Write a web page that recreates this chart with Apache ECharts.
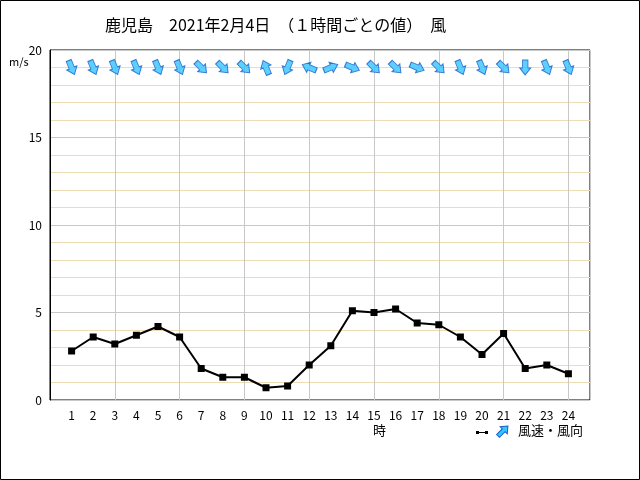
<!DOCTYPE html>
<html>
<head>
<meta charset="utf-8">
<script src="https://cdn.jsdelivr.net/npm/echarts@6/dist/echarts.min.js"></script>
<style>
  html, body { margin: 0; padding: 0; background: #fff; }
  #chart { width: 640px; height: 480px; }
</style>
</head>
<body>
<div id="chart"></div>
<script>
// 1時間ごとの値
const hours = [1, 2, 3, 4, 5, 6, 7, 8, 9, 10, 11, 12, 13, 14, 15, 16, 17, 18, 19, 20, 21, 22, 23, 24]
const windSpeed = [2.8, 3.6, 3.2, 3.7, 4.2, 3.6, 1.8, 1.3, 1.3, 0.7, 0.8, 2.0,
  3.1, 5.1, 5.0, 5.2, 4.4, 4.3, 3.6, 2.6, 3.8, 1.8, 2.0, 1.5]
const windDir = ['北北西', '北北西', '北北西', '北北西', '北北西', '北北西', '北西', '北西', '北西', '南南東', '北北東', '東南東',
  '西南西', '西北西', '北西', '北西', '西北西', '北西', '北北西', '北北西', '北西', '北', '北北西', '北北西']
const yTicks = [0, 5, 10, 15, 20]
const compass = ['北', '北北東', '北東', '東北東', '東', '東南東', '南東', '南南東',
  '南', '南南西', '南西', '西南西', '西', '西北西', '北西', '北北西']

const arrowPath = 'path://M5,0 L10,7 L7.5,7 L7.5,15 L2.5,15 L2.5,7 L0,7 Z'
const font = '"Noto Sans CJK JP", sans-serif'

let myChart = echarts.init(document.getElementById('chart'))

// 風向（吹いてくる方向）→ 矢印は風下向き
const arrowData = hours.map((h, i) => {
  let deg = compass.indexOf(windDir[i]) * 22.5
  return { value: [h, 19], symbolRotate: -(deg + 180) }
})

var option = {
  animation: false,
  textStyle: { fontFamily: font },
  title: {
    text: '鹿児島　2021年2月4日　（１時間ごとの値）　風',
    left: 100,
    top: 12,
    textStyle: { fontSize: 16, fontWeight: 'normal', color: '#000', fontFamily: font },
  },
  grid: {
    left: 50,
    top: 50,
    right: 50,
    bottom: 80,
    show: true,
    borderColor: '#000',
    borderWidth: 1,
  },
  xAxis: [
    {
      type: 'value',
      min: 0,
      max: 25,
      interval: 1,
      axisLine: { show: false },
      axisTick: { show: false },
      splitLine: { show: false },
      axisLabel: {
        color: '#000',
        fontSize: 12,
        margin: 9,
        formatter: (v) => (hours.indexOf(v) >= 0 ? String(v) : ''),
      },
    },
    {
      type: 'value',
      min: 0,
      max: 25,
      interval: 3,
      position: 'bottom',
      axisLine: { show: false },
      axisTick: { show: false },
      axisLabel: { show: false },
      splitLine: { show: true, lineStyle: { color: '#c8c8c8', width: 1 } },
    },
  ],
  yAxis: {
    type: 'value',
    min: 0,
    max: 20,
    interval: 5,
    axisLine: { show: true, lineStyle: { color: '#000' } },
    axisTick: { show: false },
    axisLabel: {
      color: '#000',
      fontSize: 12,
      margin: 8,
      formatter: (v) => (yTicks.indexOf(v) >= 0 ? String(v) : ''),
    },
    splitLine: { show: true, lineStyle: { color: '#c8c8c8', width: 1 } },
    minorTick: { show: false, splitNumber: 5 },
    minorSplitLine: { show: true, lineStyle: { color: '#eddcb4', width: 1 } },
  },
  series: [
    {
      name: '風速',
      type: 'line',
      data: hours.map((h, i) => [h, windSpeed[i]]),
      symbol: 'rect',
      symbolSize: 7,
      lineStyle: { color: '#000', width: 2 },
      itemStyle: { color: '#000' },
      z: 3,
    },
    {
      name: '風向',
      type: 'scatter',
      data: arrowData,
      symbol: arrowPath,
      symbolSize: [11, 15],
      itemStyle: { color: '#33c6ff', borderColor: '#1a5fc8', borderWidth: 1 },
      z: 4,
    },
  ],
  graphic: [
    {
      type: 'rect',
      shape: { x: 0.5, y: 0.5, width: 639, height: 479 },
      style: { fill: 'none', stroke: '#000', lineWidth: 1 },
      silent: true,
    },
    {
      type: 'text',
      x: 9,
      y: 56,
      style: { text: 'm/s', fontSize: 11, fill: '#000', fontFamily: font },
    },
    {
      type: 'text',
      x: 373,
      y: 424,
      style: { text: '時', fontSize: 13, fill: '#000', fontFamily: font },
    },
    // 凡例
    {
      type: 'line',
      shape: { x1: 477, y1: 432.5, x2: 487, y2: 432.5 },
      style: { stroke: '#000', lineWidth: 1 },
    },
    {
      type: 'rect',
      shape: { x: 476, y: 431, width: 3, height: 3 },
      style: { fill: '#000' },
    },
    {
      type: 'rect',
      shape: { x: 485, y: 431, width: 3, height: 3 },
      style: { fill: '#000' },
    },
    {
      type: 'polygon',
      shape: { points: [[0, -7], [5, -1], [2, -1], [2, 7], [-2, 7], [-2, -1], [-5, -1]] },
      x: 503,
      y: 431,
      rotation: -Math.PI / 4,
      style: { fill: '#33c6ff', stroke: '#1a5fc8', lineWidth: 1 },
    },
    {
      type: 'text',
      x: 518,
      y: 424,
      style: { text: '風速・風向', fontSize: 13, fill: '#000', fontFamily: font },
    },
  ],
}
myChart.setOption(option)
</script>
</body>
</html>
